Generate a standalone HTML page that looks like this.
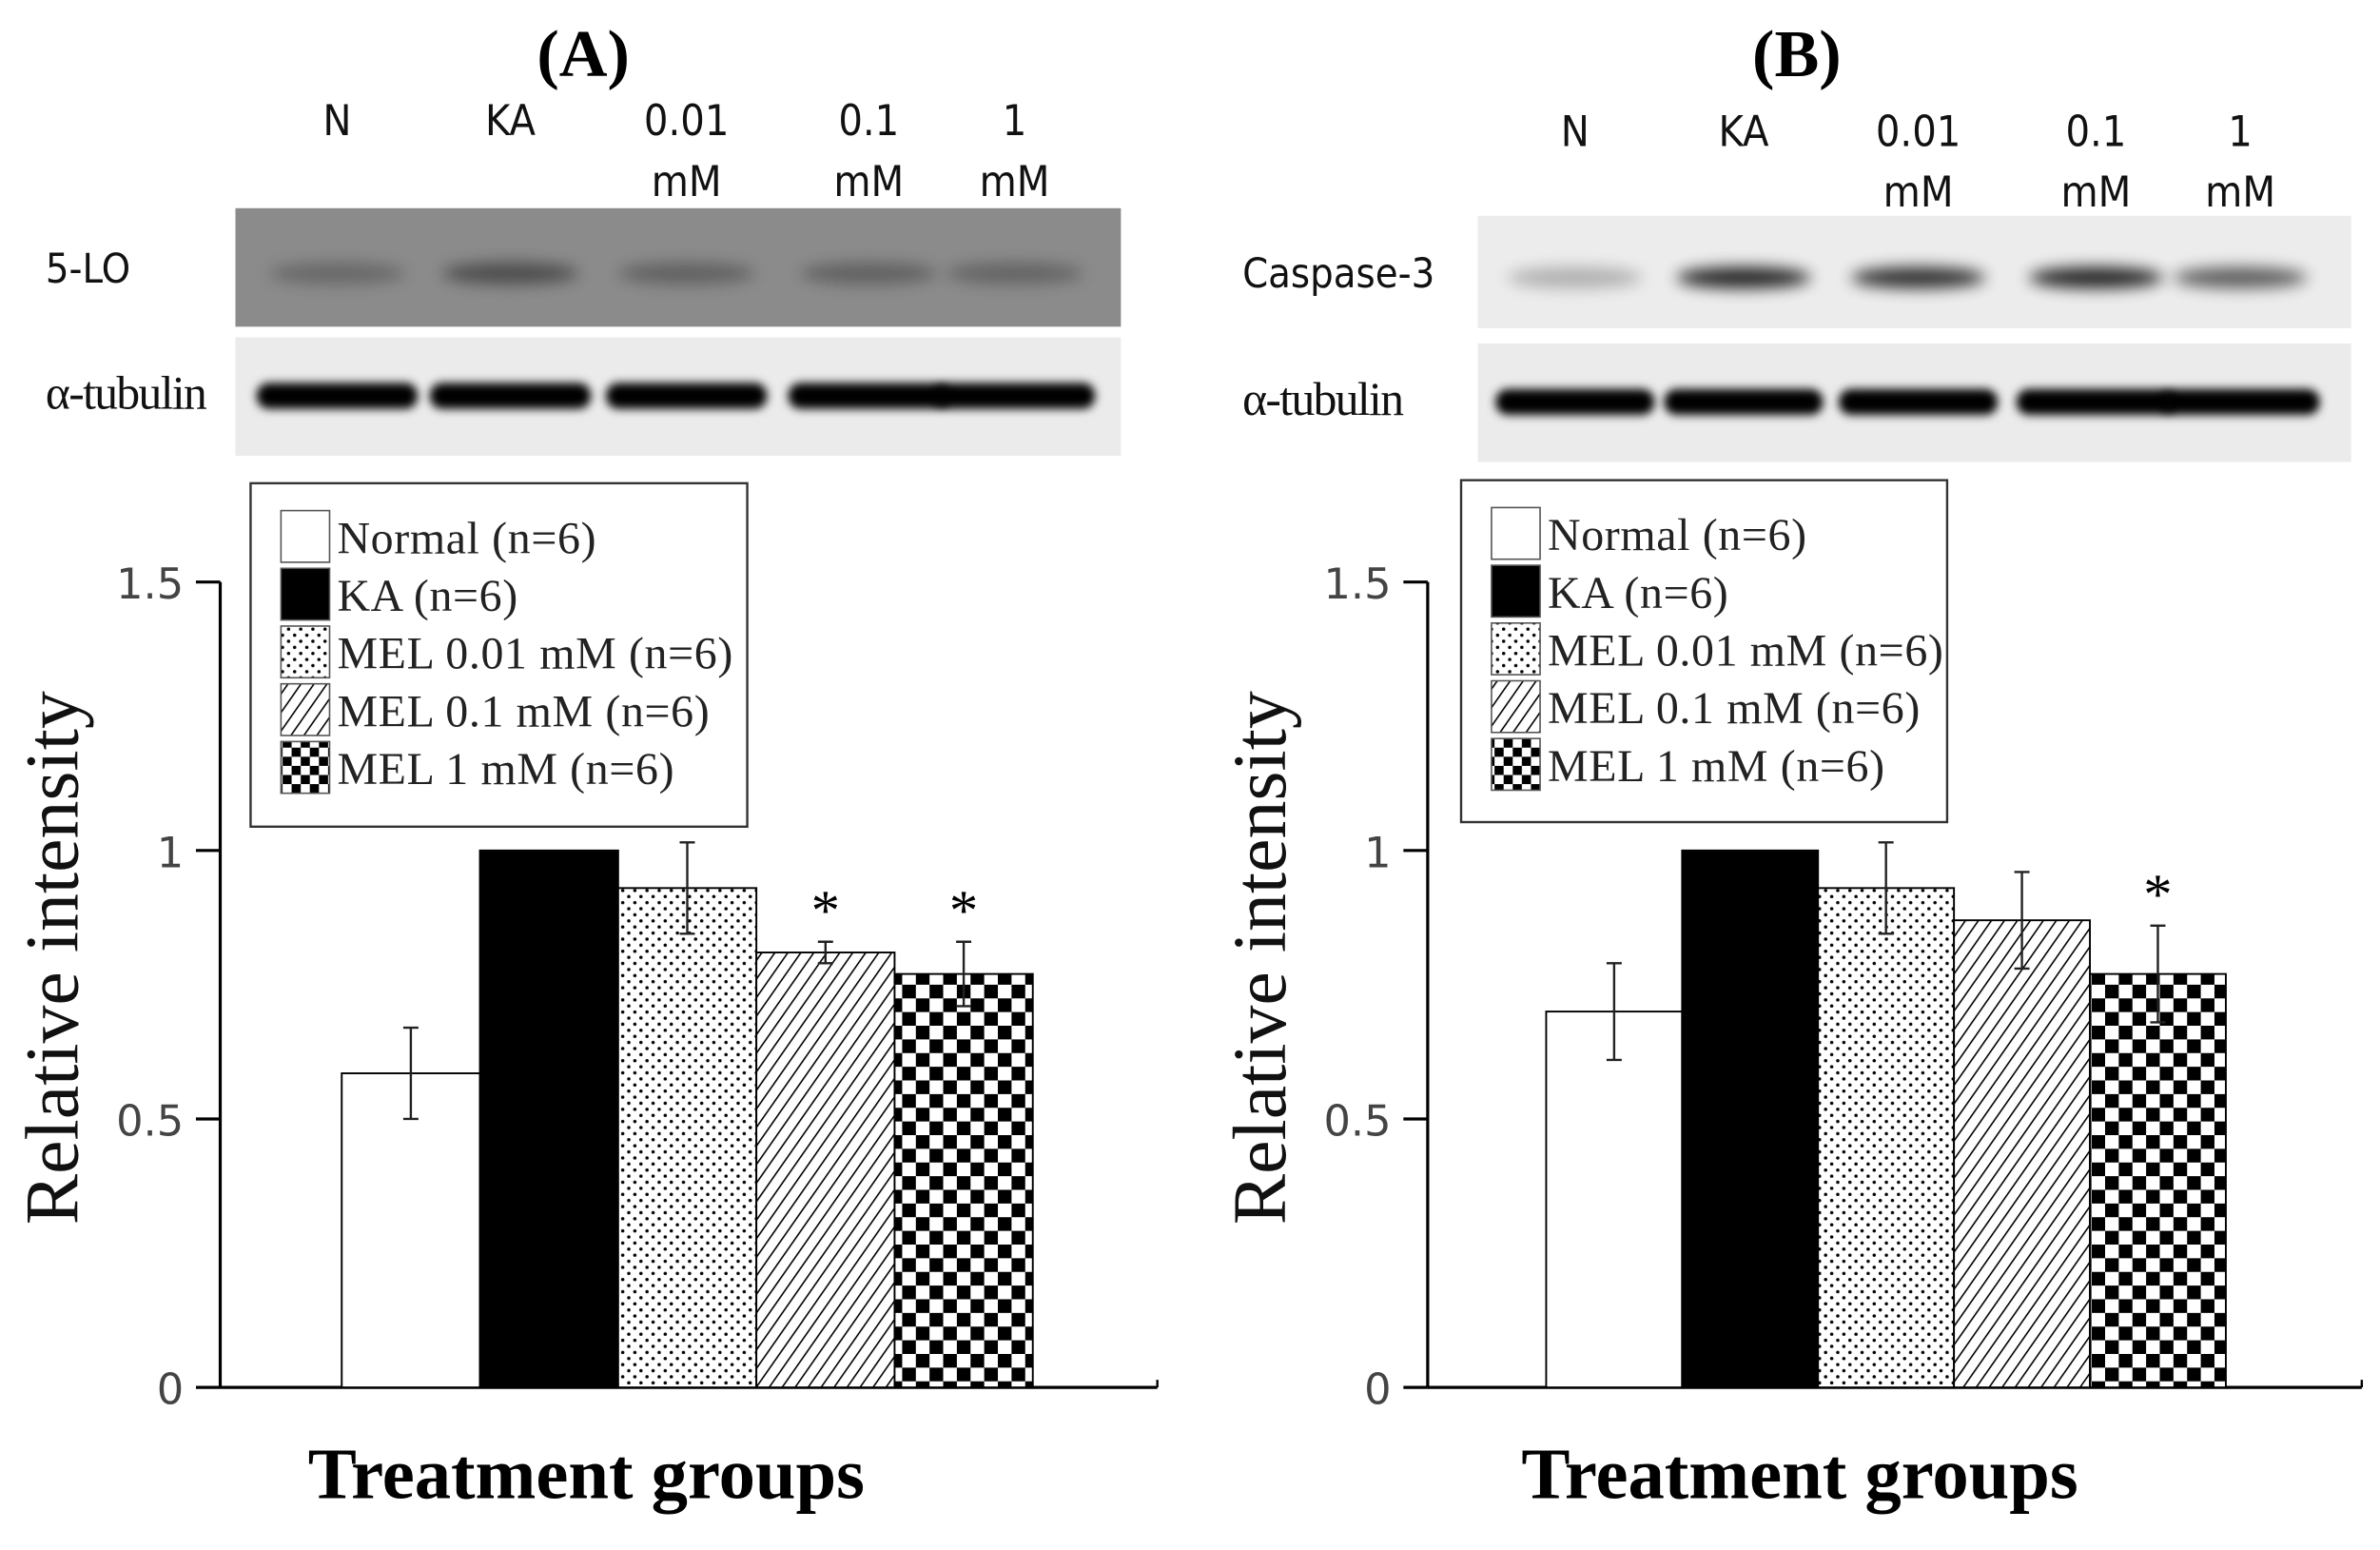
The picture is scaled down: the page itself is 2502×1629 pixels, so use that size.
<!DOCTYPE html>
<html><head><meta charset="utf-8">
<style>
html,body{margin:0;padding:0;background:#fff;}
svg{display:block;}
</style></head>
<body>
<svg id="fig" width="2502" height="1629" viewBox="0 0 1567 1020" preserveAspectRatio="none" xmlns="http://www.w3.org/2000/svg">
<defs>
<pattern id="pDots" width="8" height="8" patternUnits="userSpaceOnUse"><rect width="8" height="8" fill="#fff"/><circle cx="2" cy="2" r="1.1" fill="#000"/><circle cx="6" cy="6" r="1.1" fill="#000"/></pattern>
<pattern id="pDiag" width="7" height="7" patternUnits="userSpaceOnUse" patternTransform="rotate(35)"><rect width="7" height="7" fill="#fff"/><line x1="0" y1="0" x2="0" y2="7" stroke="#000" stroke-width="2"/></pattern>
<pattern id="pCheck" width="18" height="18" patternUnits="userSpaceOnUse"><rect width="18" height="18" fill="#fff"/><rect width="9" height="9" fill="#000"/><rect x="9" y="9" width="9" height="9" fill="#000"/></pattern>
<pattern id="pCheckS" width="12" height="12" patternUnits="userSpaceOnUse"><rect width="12" height="12" fill="#fff"/><rect width="6" height="6" fill="#000"/><rect x="6" y="6" width="6" height="6" fill="#000"/></pattern>
<filter id="blur" x="-30%" y="-100%" width="160%" height="300%"><feGaussianBlur stdDeviation="5"/></filter>
<filter id="blur2" x="-30%" y="-100%" width="160%" height="300%"><feGaussianBlur stdDeviation="3"/></filter>
</defs>
<g id="root"></g>
</svg>
<script>
const categories = ["Normal (n=6)","KA (n=6)","MEL 0.01 mM (n=6)","MEL 0.1 mM (n=6)","MEL 1 mM (n=6)"];
const valuesA = [0.585, 1.0, 0.93, 0.81, 0.77];
const errorsA = [0.085, 0, 0.085, 0.02, 0.06];
const starsA = [false, false, false, true, true];
const valuesB = [0.70, 1.0, 0.93, 0.87, 0.77];
const errorsB = [0.09, 0, 0.085, 0.09, 0.09];
const starsB = [false, false, false, false, true];
const yTicks = [0, 0.5, 1, 1.5];
const yTickLabels = ["0","0.5","1","1.5"];
const laneTop = ["N","KA","0.01","0.1","1"];
const laneBottom = ["","","mM","mM","mM"];
const bandA = [0.25, 0.45, 0.3, 0.3, 0.28];
const bandB = [0.25, 0.85, 0.8, 0.85, 0.6];

const NS="http://www.w3.org/2000/svg";
const root=document.getElementById('root');
function mk(tag,attrs,parent,text){const e=document.createElementNS(NS,tag);for(const k in attrs)e.setAttribute(k,attrs[k]);if(text!==undefined)e.textContent=text;(parent||root).appendChild(e);return e;}
const fills=["#fff","#000","url(#pDots)","url(#pDiag)","url(#pCheck)"];
const legFills=["#fff","#000","url(#pDots)","url(#pDiag)","url(#pCheckS)"];

function panel(o){
  const g=mk('g',{});
  
  
  const t=mk('text',{x:o.titleX,y:50,'font-family':'Liberation Serif, serif','font-weight':'bold','font-size':44,'text-anchor':'middle'},g,o.title);
  
  
  o.laneX.forEach((x,i)=>{
    const l=mk('text',{x:x,y:o.laneY,'font-family':'DejaVu Sans Condensed, Liberation Sans, sans-serif','font-size':28,'text-anchor':'middle',fill:'#111'},g,laneTop[i]);
    
    
    if(laneBottom[i]){const m=mk('text',{x:x,y:o.laneY+40,'font-family':'DejaVu Sans Condensed, Liberation Sans, sans-serif','font-size':28,'text-anchor':'middle',fill:'#111'},g,laneBottom[i]);
    
    }
  });
  const b1=mk('g',{},g);
  
  
  mk('rect',{x:o.bx,y:o.b1y,width:o.bw,height:o.b1h,fill:o.b1bg},b1);
  o.laneX.forEach((x,i)=>{mk('ellipse',{cx:x+o.bandOff,cy:o.b1y+o.b1h*0.55,rx:o.bw/13,ry:7,fill:'#000',opacity:o.bands[i],filter:'url(#blur)'},b1);});
  const l1=mk('text',{x:o.lx,y:o.b1y+o.b1h/2+10,'font-family':'DejaVu Sans Condensed, Liberation Sans, sans-serif','font-size':27,fill:'#111'},g,o.target);
  
  
  const b2=mk('g',{},g);
  
  
  mk('rect',{x:o.bx,y:o.b2y,width:o.bw,height:78,fill:'#ebebeb'},b2);
  o.laneX.forEach((x,i)=>{mk('rect',{x:x+o.bandOff-o.bw/11,y:o.b2y+30,width:o.bw*2/11,height:17,rx:8,fill:'#000',filter:'url(#blur2)'},b2);});
  const l2=mk('text',{x:o.lx,y:o.b2y+47,'font-family':'Liberation Serif, serif','font-size':31,fill:'#111','letter-spacing':'-1'},g,'α-tubulin');
  
  
  const y0=913, yTop=383;
  const ys=v=>y0-(y0-yTop)*v/1.5;
  const ax=o.axisX;
  mk('line',{x1:ax,y1:y0,x2:o.axisEnd,y2:y0,stroke:'#000','stroke-width':2},g);
  mk('line',{x1:ax,y1:ys(1.5),x2:ax,y2:y0,stroke:'#000','stroke-width':2},g);
  mk('line',{x1:o.axisEnd,y1:y0-5,x2:o.axisEnd,y2:y0,stroke:'#000','stroke-width':1.5},g);
  yTicks.forEach((v,i)=>{
    mk('line',{x1:ax-16,y1:ys(v),x2:ax,y2:ys(v),stroke:'#000','stroke-width':2},g);
    const tl=mk('text',{x:ax-24,y:ys(v)+11,'font-family':'DejaVu Sans, Liberation Sans, sans-serif','font-size':28,'text-anchor':'end',fill:'#444'},g,yTickLabels[i]);
    
    
  });
  const yt=mk('text',{x:0,y:0,transform:`translate(${ax-94},${ys(0.8)}) rotate(-90)`,'font-family':'Liberation Serif, serif','font-size':50,'text-anchor':'middle',fill:'#111'},g,'Relative intensity');
  
  
  const xt=mk('text',{x:o.titleX+2,y:986,'font-family':'Liberation Serif, serif','font-weight':'bold','font-size':48,'text-anchor':'middle'},g,'Treatment groups');
  
  
  const bw=o.barW;
  o.values.forEach((v,i)=>{
    const x=o.barX+i*bw;
    const r=mk('rect',{x:x,y:ys(v),width:bw,height:y0-ys(v),fill:fills[i],stroke:'#000','stroke-width':1.2},g);
    
    
    const e=o.errors[i];
    if(e>0){const cx=x+bw/2;
      const eb=mk('path',{d:`M${cx},${ys(v+e)}V${ys(v-e)}M${cx-5},${ys(v+e)}H${cx+5}M${cx-5},${ys(v-e)}H${cx+5}`,stroke:'#222','stroke-width':1.5,fill:'none'},g);
      
      }
    if(o.stars[i]){const s=mk('text',{x:x+bw/2,y:ys(v+e)-8,'font-family':'Liberation Serif, serif','font-size':38,'text-anchor':'middle'},g,'*');
      
      }
  });
  const lg=mk('g',{},g);
  
  
  mk('rect',{x:o.legX,y:o.legY,width:o.legW,height:o.legH,fill:'#fff',stroke:'#333','stroke-width':1.5},lg);
  categories.forEach((c,i)=>{
    const yy=o.legY+18+i*38;
    const en=mk('g',{},lg);
    
    
    mk('rect',{x:o.legX+20,y:yy,width:32,height:34,fill:legFills[i],stroke:'#555','stroke-width':1},en);
    mk('text',{x:o.legX+57,y:yy+28,'font-family':'Liberation Serif, serif','font-size':30,fill:'#222','letter-spacing':'0.4'},en,c);
  });
}
panel({id:'a',title:'(A)',titleX:384,laneX:[222,336,452,572,668],laneY:89,bandOff:0,bx:155,bw:583,b1y:137,b1h:78,b1bg:'#8b8b8b',b2y:222,bands:bandA,lx:30,target:'5-LO',
  axisX:145,axisEnd:762,barX:225,barW:91,values:valuesA,errors:errorsA,stars:starsA,legX:165,legY:318,legW:327,legH:226});
panel({id:'b',title:'(B)',titleX:1183,laneX:[1037,1148,1263,1380,1475],laneY:96,bandOff:0,bx:973,bw:575,b1y:142,b1h:74,b1bg:'#ececec',b2y:226,bands:bandB,lx:818,target:'Caspase-3',
  axisX:940,axisEnd:1555,barX:1018,barW:89.5,values:valuesB,errors:errorsB,stars:starsB,legX:962,legY:316,legW:320,legH:225});
</script>
</body></html>
